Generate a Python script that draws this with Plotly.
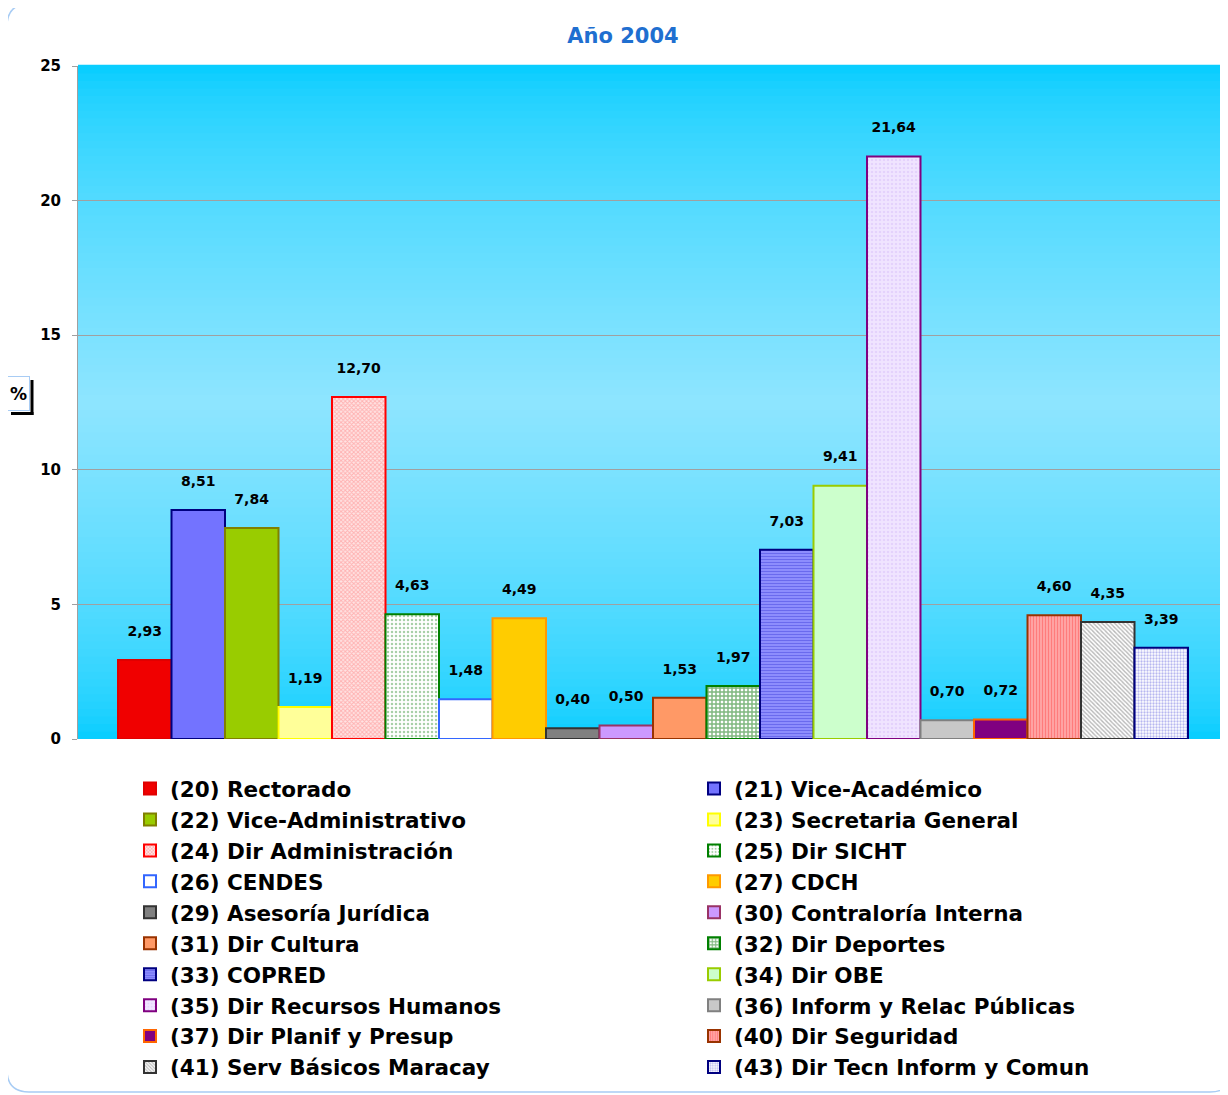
import plotly.graph_objects as go

# datos: porcentaje por dependencia, año 2004
dependencias = ["(20) Rectorado", "(21) Vice-Académico", "(22) Vice-Administrativo",
                "(23) Secretaria General", "(24) Dir Administración", "(25) Dir SICHT",
                "(26) CENDES", "(27) CDCH", "(29) Asesoría Jurídica",
                "(30) Contraloría Interna", "(31) Dir Cultura", "(32) Dir Deportes",
                "(33) COPRED", "(34) Dir OBE", "(35) Dir Recursos Humanos",
                "(36) Inform y Relac Públicas", "(37) Dir Planif y Presup",
                "(40) Dir Seguridad", "(41) Serv Básicos Maracay",
                "(43) Dir Tecn Inform y Comun"]
porcentajes = [2.93, 8.51, 7.84, 1.19, 12.70, 4.63, 1.48, 4.49, 0.40, 0.50,
               1.53, 1.97, 7.03, 9.41, 21.64, 0.70, 0.72, 4.60, 4.35, 3.39]
y_ticks = [0, 5, 10, 15, 20, 25]

# estilos de cada barra
relleno = ["#F00000", "#7373FF", "#99CC00", "#FFFF99", "#FFD0D0", "#FFFFFF",
           "#FFFFFF", "#FFCC00", "#808080", "#CC99FF", "#FF9966", "#FFFFFF",
           "#7777F0", "#CCFFCC", "#EAD9FF", "#C8C8C8", "#800080", "#FF9090",
           "#E0E0E0", "#FFFFFF"]
borde = ["#E00000", "#000080", "#808000", "#FFFF00", "#FF0000", "#008000",
         "#3366FF", "#FF9900", "#333333", "#993366", "#993300", "#008000",
         "#000080", "#99CC00", "#800080", "#808080", "#FF6600", "#993300",
         "#333333", "#000080"]
trama = [None, None, None, None,
         dict(shape="x", fgcolor="#FF8080", bgcolor="#FFE4E4", size=3, solidity=0.55),
         dict(shape=".", fgcolor="#50A050", bgcolor="#FFFFFF", size=4, solidity=0.3),
         None, None, None, None, None,
         dict(shape="+", fgcolor="#007000", bgcolor="#FFFFFF", size=4, solidity=0.6),
         dict(shape="-", fgcolor="#4444DD", bgcolor="#9090FF", size=3, solidity=0.4),
         None,
         dict(shape=".", fgcolor="#D8C0F8", bgcolor="#F0E4FF", size=4, solidity=0.3),
         None, None,
         dict(shape="|", fgcolor="#FF5050", bgcolor="#FFA8A8", size=3, solidity=0.4),
         dict(shape="\\", fgcolor="#707070", bgcolor="#FFFFFF", size=3, solidity=0.45),
         dict(shape=".", fgcolor="#7070E0", bgcolor="#FFFFFF", size=3, solidity=0.45)]

FUENTE = "DejaVu Sans"

# la pagina deja 8px de margen en el body
OFF = 8
W, H = 1228 - OFF, 1095 - OFF
# pixeles (coordenadas de la referencia) del area de trazado
L, T, R, B = 78, 66, 1228, 739


def px(x):
    return (x - L) / (R - L)


def py(y):
    return (B - y) / (B - T)


fig = go.Figure()

for nombre, valor, color, linea, patron in zip(dependencias, porcentajes, relleno, borde, trama):
    marker = dict(color=color, line=dict(color=linea, width=2))
    if patron is not None:
        marker["pattern"] = patron
    fig.add_trace(go.Bar(
        x=[0], y=[valor], name=nombre,
        marker=marker,
        text=[f"{valor:.2f}".replace(".", ",") + "<br> "],
        textposition="outside", constraintext="none", cliponaxis=False,
        textfont=dict(family=FUENTE, size=14, color="black", weight="bold"),
    ))

# fondo degradado del area de trazado
N = 90
top_c = (0, 204, 255)
mid_c = (142, 229, 255)
shapes = []
for i in range(N):
    t = (i + 0.5) / N
    f = (1 - abs(2 * t - 1)) ** 0.6
    c = tuple(int(round(a + (b - a) * f)) for a, b in zip(top_c, mid_c))
    shapes.append(dict(type="rect", xref="paper", yref="paper", x0=0, x1=1,
                       y0=i / N, y1=(i + 1) / N + 0.002, layer="below",
                       line=dict(width=0), fillcolor=f"rgb{c}"))

# marco redondeado
r = 22
x0, y0, x1, y1 = 7, 4, 1232, 1092
ruta = (f"M {px(x0 + r)},{py(y0)} L {px(x1 - r)},{py(y0)} "
        f"Q {px(x1)},{py(y0)} {px(x1)},{py(y0 + r)} L {px(x1)},{py(y1 - r)} "
        f"Q {px(x1)},{py(y1)} {px(x1 - r)},{py(y1)} L {px(x0 + r)},{py(y1)} "
        f"Q {px(x0)},{py(y1)} {px(x0)},{py(y1 - r)} L {px(x0)},{py(y0 + r)} "
        f"Q {px(x0)},{py(y0)} {px(x0 + r)},{py(y0)} Z")
shapes.append(dict(type="path", xref="paper", yref="paper", path=ruta,
                   line=dict(color="#A8CCF4", width=1.5), layer="above"))

# sombra del cuadro "%"
shapes.append(dict(type="line", xref="paper", yref="paper",
                   x0=px(32), x1=px(32), y0=py(380), y1=py(415),
                   line=dict(color="black", width=3)))
shapes.append(dict(type="line", xref="paper", yref="paper",
                   x0=px(11), x1=px(33.5), y0=py(413.5), y1=py(413.5),
                   line=dict(color="black", width=3)))

fig.update_layout(
    width=W, height=H,
    paper_bgcolor="white", plot_bgcolor="#00CCFF",
    margin=dict(l=L - OFF, r=0, t=T - OFF, b=H - (B - OFF), autoexpand=False),
    barmode="group", bargap=80 / 1150, bargroupgap=0,
    title=dict(text="Año 2004", x=(623 - OFF) / W, xanchor="center",
               y=1 - (36 - OFF) / H, yanchor="middle",
               font=dict(family=FUENTE, size=21, color="#1F6FD0", weight="bold")),
    shapes=shapes,
    showlegend=True,
    legend=dict(orientation="h", x=px(130), xanchor="left", y=py(768), yanchor="top",
                entrywidth=519, entrywidthmode="pixels", traceorder="normal",
                font=dict(family=FUENTE, size=21.5, color="black", weight="bold"),
                bgcolor="rgba(0,0,0,0)", itemclick=False),
    annotations=[dict(text="%", xref="paper", yref="paper", x=px(18.5), y=py(393.5),
                      xanchor="center", yanchor="middle", width=19, height=31,
                      showarrow=False, bordercolor="#A8CCF4", borderwidth=1, borderpad=1,
                      bgcolor="white",
                      font=dict(family=FUENTE, size=17, color="black", weight="bold"))],
)

fig.update_xaxes(range=[-0.5, 0.5], showticklabels=False, showgrid=False,
                 zeroline=False, showline=False, ticks="")
fig.update_yaxes(range=[0, 25], tickvals=y_ticks, ticks="outside", ticklen=5,
                 tickcolor="#A0A0A0", showgrid=True, gridcolor="#A0A0A0", gridwidth=1,
                 showline=True, linecolor="#A0A0A0", linewidth=1, zeroline=False,
                 ticklabelstandoff=8,
                 tickfont=dict(family=FUENTE, size=15, color="black", weight="bold"))

fig.write_html("out.html")
